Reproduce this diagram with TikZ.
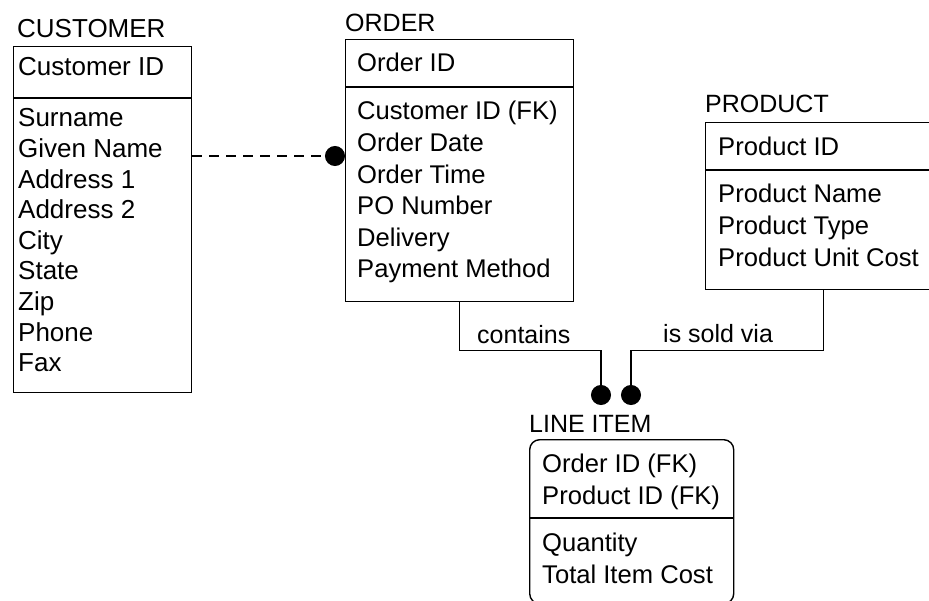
\documentclass[tikz,border=0pt]{standalone}
\usepackage{fontspec}
\setmainfont{Liberation Sans}
\usetikzlibrary{positioning,arrows.meta}

\begin{document}
\begin{tikzpicture}[x=1pt,y=-1pt,
    entity/.style={rectangle,draw,line width=1.4pt,inner sep=0pt,anchor=north west},
    divider/.style={line width=1.4pt},
    title/.style={anchor=base west,inner sep=0pt,font=\fontsize{25}{30}\selectfont},
    attr/.style={anchor=base west,inner sep=0pt,font=\fontsize{25.6}{30}\selectfont},
    link/.style={line width=1.4pt,-{Circle[length=20pt,width=20pt]}},
    rel/.style={anchor=base west,inner sep=0pt,font=\fontsize{25}{30}\selectfont}]
    \clip (0,0) rectangle (929,601);
    % entity boxes
    \node[entity,minimum width=178pt,minimum height=346pt] (cust) at (13,46) {};
    \node[entity,minimum width=228pt,minimum height=262pt] (order) at (345,39) {};
    \node[entity,minimum width=236pt,minimum height=167pt] (product) at (705,122) {};
    \node[entity,rounded corners=10pt,minimum width=204pt,minimum height=164pt] (litem) at (529,439) {};
    \draw[divider] (cust.west |- 0,98) -- (cust.east |- 0,98);
    \draw[divider] (order.west |- 0,87) -- (order.east |- 0,87);
    \draw[divider] (product.west |- 0,170) -- (product.east |- 0,170);
    \draw[divider] (litem.west |- 0,518) -- (litem.east |- 0,518);
    % titles
    \node[title,font=\fontsize{26}{31}\selectfont] (custname) at (17,38) {CUSTOMER};
    \node[title] (ordername) at (345,32) {ORDER};
    \node[title] (productname) at (705,113) {PRODUCT};
    \node[title] (litemname) at (529,432) {LINE ITEM};
    % attributes
    \node[attr,font=\fontsize{26}{31}\selectfont] (ckey) at (18,76) {Customer ID};
    \foreach \t [count=\i from 0] in {Surname,Given Name,Address 1,Address 2,City,State,Zip,Phone,Fax}
        \node[attr,font=\fontsize{26}{31}\selectfont] (c\i) at (18,127+30.6*\i) {\t};
    \node[attr] (okey) at (357,72) {Order ID};
    \foreach \t [count=\i from 0] in {Customer ID (FK),Order Date,Order Time,PO Number,Delivery,Payment Method}
        \node[attr] (o\i) at (357,120+31.6*\i) {\t};
    \node[attr] (pkey) at (718,156) {Product ID};
    \foreach \t [count=\i from 0] in {Product Name,Product Type,Product Unit Cost}
        \node[attr] (p\i) at (718,203+32*\i) {\t};
    \node[attr] (lkey0) at (542,472) {Order ID (FK)};
    \node[attr] (lkey1) at (542,504) {Product ID (FK)};
    \node[attr] (l0) at (542,551) {Quantity};
    \node[attr] (l1) at (542,583) {Total Item Cost};
    % relationships
    \coordinate (oend) at (601,405);
    \coordinate (pend) at (631,405);
    \draw[link,dash pattern=on 10pt off 7pt] (cust.east |- 0,156) -- (order.west |- 0,156);
    \draw[link] (order.south) -- ++(0,48) -| (oend);
    \draw[link] (product.south) -- ++(0,60) -| (pend);
    \node[rel] (contains) at (477,344) {contains};
    \node[rel] (soldvia) at (663,343) {is sold via};
\end{tikzpicture}
\end{document}
